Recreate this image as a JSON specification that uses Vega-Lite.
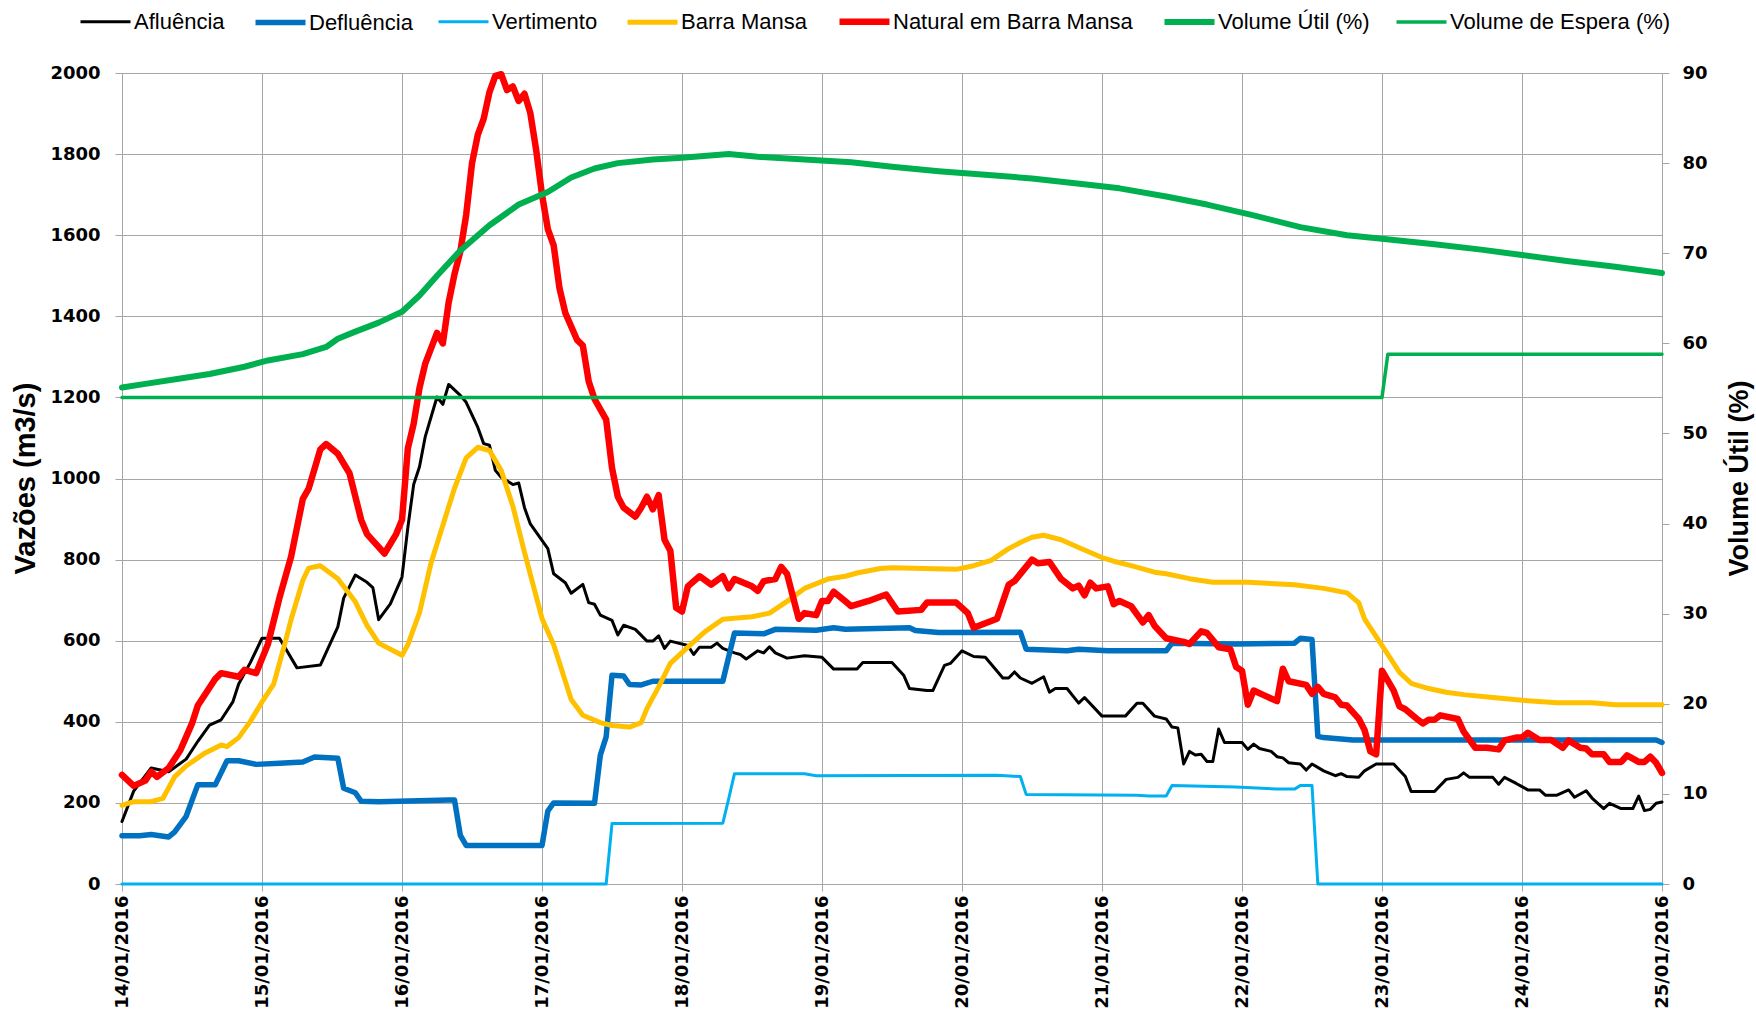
{
  "$schema": "https://vega.github.io/schema/vega-lite/v6.json",
  "width": 1540,
  "height": 811,
  "autosize": {"type": "none"},
  "padding": {"left": 122, "top": 73, "right": 94, "bottom": 137},
  "background": "white",
  "config": {"view": {"stroke": null}, "font": "Liberation Sans"},
  "datasets": {
    "vazoes": [
      {"t":"2016-01-14T00:00","s":"Afluência","v":154},{"t":"2016-01-14T02:00","s":"Afluência","v":229},{"t":"2016-01-14T05:00","s":"Afluência","v":286},{"t":"2016-01-14T08:00","s":"Afluência","v":277},{"t":"2016-01-14T11:00","s":"Afluência","v":308},{"t":"2016-01-14T13:00","s":"Afluência","v":352},{"t":"2016-01-14T15:00","s":"Afluência","v":392},{"t":"2016-01-14T17:00","s":"Afluência","v":405},{"t":"2016-01-14T19:00","s":"Afluência","v":449},{"t":"2016-01-14T20:00","s":"Afluência","v":493},{"t":"2016-01-14T22:00","s":"Afluência","v":546},
      {"t":"2016-01-15T00:00","s":"Afluência","v":606},{"t":"2016-01-15T03:00","s":"Afluência","v":606},{"t":"2016-01-15T06:00","s":"Afluência","v":533},{"t":"2016-01-15T10:00","s":"Afluência","v":540},{"t":"2016-01-15T13:00","s":"Afluência","v":634},{"t":"2016-01-15T14:00","s":"Afluência","v":705},{"t":"2016-01-15T16:00","s":"Afluência","v":762},{"t":"2016-01-15T18:00","s":"Afluência","v":744},{"t":"2016-01-15T19:00","s":"Afluência","v":731},{"t":"2016-01-15T20:00","s":"Afluência","v":652},{"t":"2016-01-15T22:00","s":"Afluência","v":691},
      {"t":"2016-01-16T00:00","s":"Afluência","v":757},{"t":"2016-01-16T01:00","s":"Afluência","v":879},{"t":"2016-01-16T02:00","s":"Afluência","v":985},{"t":"2016-01-16T03:00","s":"Afluência","v":1029},{"t":"2016-01-16T04:00","s":"Afluência","v":1104},{"t":"2016-01-16T06:00","s":"Afluência","v":1201},{"t":"2016-01-16T07:00","s":"Afluência","v":1183},{"t":"2016-01-16T08:00","s":"Afluência","v":1232},{"t":"2016-01-16T10:00","s":"Afluência","v":1205},{"t":"2016-01-16T11:00","s":"Afluência","v":1188},{"t":"2016-01-16T13:00","s":"Afluência","v":1126},{"t":"2016-01-16T14:00","s":"Afluência","v":1086},{"t":"2016-01-16T15:00","s":"Afluência","v":1082},{"t":"2016-01-16T16:00","s":"Afluência","v":1020},{"t":"2016-01-16T17:00","s":"Afluência","v":1003},{"t":"2016-01-16T19:00","s":"Afluência","v":985},{"t":"2016-01-16T20:00","s":"Afluência","v":989},{"t":"2016-01-16T21:00","s":"Afluência","v":928},{"t":"2016-01-16T22:00","s":"Afluência","v":888},
      {"t":"2016-01-17T01:00","s":"Afluência","v":827},{"t":"2016-01-17T02:00","s":"Afluência","v":765},{"t":"2016-01-17T04:00","s":"Afluência","v":743},{"t":"2016-01-17T05:00","s":"Afluência","v":717},{"t":"2016-01-17T07:00","s":"Afluência","v":739},{"t":"2016-01-17T08:00","s":"Afluência","v":694},{"t":"2016-01-17T09:00","s":"Afluência","v":690},{"t":"2016-01-17T10:00","s":"Afluência","v":663},{"t":"2016-01-17T12:00","s":"Afluência","v":650},{"t":"2016-01-17T13:00","s":"Afluência","v":614},{"t":"2016-01-17T14:00","s":"Afluência","v":638},{"t":"2016-01-17T16:00","s":"Afluência","v":628},{"t":"2016-01-17T18:00","s":"Afluência","v":599},{"t":"2016-01-17T19:00","s":"Afluência","v":599},{"t":"2016-01-17T20:00","s":"Afluência","v":612},{"t":"2016-01-17T21:00","s":"Afluência","v":581},{"t":"2016-01-17T22:00","s":"Afluência","v":599},
      {"t":"2016-01-18T01:00","s":"Afluência","v":588},{"t":"2016-01-18T02:00","s":"Afluência","v":566},{"t":"2016-01-18T03:00","s":"Afluência","v":584},{"t":"2016-01-18T05:00","s":"Afluência","v":584},{"t":"2016-01-18T06:00","s":"Afluência","v":594},{"t":"2016-01-18T07:00","s":"Afluência","v":581},{"t":"2016-01-18T09:00","s":"Afluência","v":570},{"t":"2016-01-18T10:00","s":"Afluência","v":566},{"t":"2016-01-18T11:00","s":"Afluência","v":555},{"t":"2016-01-18T13:00","s":"Afluência","v":575},{"t":"2016-01-18T14:00","s":"Afluência","v":570},{"t":"2016-01-18T15:00","s":"Afluência","v":585},{"t":"2016-01-18T16:00","s":"Afluência","v":570},{"t":"2016-01-18T18:00","s":"Afluência","v":557},{"t":"2016-01-18T21:00","s":"Afluência","v":563},
      {"t":"2016-01-19T00:00","s":"Afluência","v":559},{"t":"2016-01-19T02:00","s":"Afluência","v":530},{"t":"2016-01-19T06:00","s":"Afluência","v":530},{"t":"2016-01-19T07:00","s":"Afluência","v":546},{"t":"2016-01-19T12:00","s":"Afluência","v":546},{"t":"2016-01-19T14:00","s":"Afluência","v":515},{"t":"2016-01-19T15:00","s":"Afluência","v":482},{"t":"2016-01-19T18:00","s":"Afluência","v":477},{"t":"2016-01-19T19:00","s":"Afluência","v":477},{"t":"2016-01-19T21:00","s":"Afluência","v":539},{"t":"2016-01-19T22:00","s":"Afluência","v":544},
      {"t":"2016-01-20T00:00","s":"Afluência","v":575},{"t":"2016-01-20T02:00","s":"Afluência","v":561},{"t":"2016-01-20T04:00","s":"Afluência","v":559},{"t":"2016-01-20T07:00","s":"Afluência","v":508},{"t":"2016-01-20T08:00","s":"Afluência","v":508},{"t":"2016-01-20T09:00","s":"Afluência","v":523},{"t":"2016-01-20T10:00","s":"Afluência","v":508},{"t":"2016-01-20T12:00","s":"Afluência","v":495},{"t":"2016-01-20T14:00","s":"Afluência","v":511},{"t":"2016-01-20T15:00","s":"Afluência","v":473},{"t":"2016-01-20T16:00","s":"Afluência","v":482},{"t":"2016-01-20T18:00","s":"Afluência","v":482},{"t":"2016-01-20T20:00","s":"Afluência","v":446},{"t":"2016-01-20T21:00","s":"Afluência","v":460},
      {"t":"2016-01-21T00:00","s":"Afluência","v":414},{"t":"2016-01-21T04:00","s":"Afluência","v":414},{"t":"2016-01-21T06:00","s":"Afluência","v":446},{"t":"2016-01-21T07:00","s":"Afluência","v":446},{"t":"2016-01-21T09:00","s":"Afluência","v":414},{"t":"2016-01-21T11:00","s":"Afluência","v":407},{"t":"2016-01-21T12:00","s":"Afluência","v":387},{"t":"2016-01-21T13:00","s":"Afluência","v":385},{"t":"2016-01-21T14:00","s":"Afluência","v":296},{"t":"2016-01-21T15:00","s":"Afluência","v":327},{"t":"2016-01-21T16:00","s":"Afluência","v":318},{"t":"2016-01-21T17:00","s":"Afluência","v":320},{"t":"2016-01-21T18:00","s":"Afluência","v":302},{"t":"2016-01-21T19:00","s":"Afluência","v":302},{"t":"2016-01-21T20:00","s":"Afluência","v":382},{"t":"2016-01-21T21:00","s":"Afluência","v":349},
      {"t":"2016-01-22T00:00","s":"Afluência","v":349},{"t":"2016-01-22T01:00","s":"Afluência","v":332},{"t":"2016-01-22T02:00","s":"Afluência","v":345},{"t":"2016-01-22T03:00","s":"Afluência","v":334},{"t":"2016-01-22T05:00","s":"Afluência","v":327},{"t":"2016-01-22T06:00","s":"Afluência","v":314},{"t":"2016-01-22T07:00","s":"Afluência","v":311},{"t":"2016-01-22T08:00","s":"Afluência","v":299},{"t":"2016-01-22T10:00","s":"Afluência","v":296},{"t":"2016-01-22T11:00","s":"Afluência","v":281},{"t":"2016-01-22T12:00","s":"Afluência","v":296},{"t":"2016-01-22T14:00","s":"Afluência","v":279},{"t":"2016-01-22T16:00","s":"Afluência","v":267},{"t":"2016-01-22T17:00","s":"Afluência","v":272},{"t":"2016-01-22T18:00","s":"Afluência","v":265},{"t":"2016-01-22T20:00","s":"Afluência","v":263},{"t":"2016-01-22T21:00","s":"Afluência","v":279},{"t":"2016-01-22T23:00","s":"Afluência","v":296},
      {"t":"2016-01-23T02:00","s":"Afluência","v":296},{"t":"2016-01-23T04:00","s":"Afluência","v":265},{"t":"2016-01-23T05:00","s":"Afluência","v":228},{"t":"2016-01-23T09:00","s":"Afluência","v":228},{"t":"2016-01-23T11:00","s":"Afluência","v":258},{"t":"2016-01-23T13:00","s":"Afluência","v":263},{"t":"2016-01-23T14:00","s":"Afluência","v":274},{"t":"2016-01-23T15:00","s":"Afluência","v":263},{"t":"2016-01-23T19:00","s":"Afluência","v":263},{"t":"2016-01-23T20:00","s":"Afluência","v":246},{"t":"2016-01-23T21:00","s":"Afluência","v":263},{"t":"2016-01-23T23:00","s":"Afluência","v":248},
      {"t":"2016-01-24T00:00","s":"Afluência","v":240},{"t":"2016-01-24T01:00","s":"Afluência","v":232},{"t":"2016-01-24T03:00","s":"Afluência","v":232},{"t":"2016-01-24T04:00","s":"Afluência","v":219},{"t":"2016-01-24T06:00","s":"Afluência","v":219},{"t":"2016-01-24T08:00","s":"Afluência","v":232},{"t":"2016-01-24T09:00","s":"Afluência","v":214},{"t":"2016-01-24T11:00","s":"Afluência","v":230},{"t":"2016-01-24T12:00","s":"Afluência","v":212},{"t":"2016-01-24T14:00","s":"Afluência","v":186},{"t":"2016-01-24T15:00","s":"Afluência","v":199},{"t":"2016-01-24T17:00","s":"Afluência","v":186},{"t":"2016-01-24T19:00","s":"Afluência","v":186},{"t":"2016-01-24T20:00","s":"Afluência","v":217},{"t":"2016-01-24T21:00","s":"Afluência","v":181},{"t":"2016-01-24T22:00","s":"Afluência","v":184},{"t":"2016-01-24T23:00","s":"Afluência","v":199},{"t":"2016-01-25T00:00","s":"Afluência","v":202},

      {"t":"2016-01-14T00:00","s":"Defluência","v":119},{"t":"2016-01-14T03:00","s":"Defluência","v":119},{"t":"2016-01-14T05:00","s":"Defluência","v":122},{"t":"2016-01-14T08:00","s":"Defluência","v":116},{"t":"2016-01-14T09:00","s":"Defluência","v":128},{"t":"2016-01-14T11:00","s":"Defluência","v":167},{"t":"2016-01-14T13:00","s":"Defluência","v":245},{"t":"2016-01-14T16:00","s":"Defluência","v":245},{"t":"2016-01-14T18:00","s":"Defluência","v":304},{"t":"2016-01-14T20:00","s":"Defluência","v":304},{"t":"2016-01-14T23:00","s":"Defluência","v":295},
      {"t":"2016-01-15T03:00","s":"Defluência","v":298},{"t":"2016-01-15T07:00","s":"Defluência","v":301},{"t":"2016-01-15T09:00","s":"Defluência","v":313},{"t":"2016-01-15T13:00","s":"Defluência","v":310},{"t":"2016-01-15T14:00","s":"Defluência","v":236},{"t":"2016-01-15T16:00","s":"Defluência","v":225},{"t":"2016-01-15T17:00","s":"Defluência","v":204},{"t":"2016-01-15T20:00","s":"Defluência","v":203},
      {"t":"2016-01-16T08:00","s":"Defluência","v":207},{"t":"2016-01-16T09:00","s":"Defluência","v":207},{"t":"2016-01-16T10:00","s":"Defluência","v":120},{"t":"2016-01-16T11:00","s":"Defluência","v":95},
      {"t":"2016-01-17T00:00","s":"Defluência","v":95},{"t":"2016-01-17T01:00","s":"Defluência","v":180},{"t":"2016-01-17T02:00","s":"Defluência","v":200},{"t":"2016-01-17T09:00","s":"Defluência","v":199},{"t":"2016-01-17T10:00","s":"Defluência","v":318},{"t":"2016-01-17T11:00","s":"Defluência","v":363},{"t":"2016-01-17T12:00","s":"Defluência","v":515},{"t":"2016-01-17T14:00","s":"Defluência","v":513},{"t":"2016-01-17T15:00","s":"Defluência","v":492},{"t":"2016-01-17T17:00","s":"Defluência","v":491},{"t":"2016-01-17T19:00","s":"Defluência","v":500},
      {"t":"2016-01-18T07:00","s":"Defluência","v":500},{"t":"2016-01-18T08:00","s":"Defluência","v":560},{"t":"2016-01-18T09:00","s":"Defluência","v":619},{"t":"2016-01-18T14:00","s":"Defluência","v":617},{"t":"2016-01-18T16:00","s":"Defluência","v":628},{"t":"2016-01-18T23:00","s":"Defluência","v":626},
      {"t":"2016-01-19T02:00","s":"Defluência","v":632},{"t":"2016-01-19T04:00","s":"Defluência","v":628},{"t":"2016-01-19T15:00","s":"Defluência","v":632},{"t":"2016-01-19T16:00","s":"Defluência","v":625},{"t":"2016-01-19T20:00","s":"Defluência","v":620},
      {"t":"2016-01-20T10:00","s":"Defluência","v":621},{"t":"2016-01-20T11:00","s":"Defluência","v":579},{"t":"2016-01-20T18:00","s":"Defluência","v":575},{"t":"2016-01-20T20:00","s":"Defluência","v":579},
      {"t":"2016-01-21T01:00","s":"Defluência","v":575},{"t":"2016-01-21T11:00","s":"Defluência","v":575},{"t":"2016-01-21T12:00","s":"Defluência","v":594},{"t":"2016-01-21T23:00","s":"Defluência","v":592},
      {"t":"2016-01-22T09:00","s":"Defluência","v":594},{"t":"2016-01-22T10:00","s":"Defluência","v":606},{"t":"2016-01-22T12:00","s":"Defluência","v":603},{"t":"2016-01-22T13:00","s":"Defluência","v":364},{"t":"2016-01-22T14:00","s":"Defluência","v":361},{"t":"2016-01-22T19:00","s":"Defluência","v":355},
      {"t":"2016-01-24T23:00","s":"Defluência","v":355},{"t":"2016-01-25T00:00","s":"Defluência","v":349},

      {"t":"2016-01-14T00:00","s":"Vertimento","v":0},{"t":"2016-01-17T11:00","s":"Vertimento","v":0},{"t":"2016-01-17T12:00","s":"Vertimento","v":149},{"t":"2016-01-18T07:00","s":"Vertimento","v":150},{"t":"2016-01-18T08:00","s":"Vertimento","v":210},{"t":"2016-01-18T09:00","s":"Vertimento","v":272},{"t":"2016-01-18T21:00","s":"Vertimento","v":272},{"t":"2016-01-18T23:00","s":"Vertimento","v":267},{"t":"2016-01-20T06:00","s":"Vertimento","v":268},{"t":"2016-01-20T10:00","s":"Vertimento","v":265},{"t":"2016-01-20T11:00","s":"Vertimento","v":221},{"t":"2016-01-21T06:00","s":"Vertimento","v":219},{"t":"2016-01-21T08:00","s":"Vertimento","v":217},{"t":"2016-01-21T11:00","s":"Vertimento","v":217},{"t":"2016-01-21T12:00","s":"Vertimento","v":243},{"t":"2016-01-21T23:00","s":"Vertimento","v":239},{"t":"2016-01-22T06:00","s":"Vertimento","v":234},{"t":"2016-01-22T09:00","s":"Vertimento","v":234},{"t":"2016-01-22T10:00","s":"Vertimento","v":243},{"t":"2016-01-22T12:00","s":"Vertimento","v":243},{"t":"2016-01-22T13:00","s":"Vertimento","v":0},{"t":"2016-01-25T00:00","s":"Vertimento","v":0},

      {"t":"2016-01-14T00:00","s":"Barra Mansa","v":194},{"t":"2016-01-14T02:00","s":"Barra Mansa","v":203},{"t":"2016-01-14T05:00","s":"Barra Mansa","v":203},{"t":"2016-01-14T07:00","s":"Barra Mansa","v":211},{"t":"2016-01-14T09:00","s":"Barra Mansa","v":264},{"t":"2016-01-14T11:00","s":"Barra Mansa","v":291},{"t":"2016-01-14T14:00","s":"Barra Mansa","v":321},{"t":"2016-01-14T17:00","s":"Barra Mansa","v":343},{"t":"2016-01-14T18:00","s":"Barra Mansa","v":339},{"t":"2016-01-14T20:00","s":"Barra Mansa","v":361},{"t":"2016-01-14T22:00","s":"Barra Mansa","v":401},
      {"t":"2016-01-15T00:00","s":"Barra Mansa","v":449},{"t":"2016-01-15T02:00","s":"Barra Mansa","v":493},{"t":"2016-01-15T04:00","s":"Barra Mansa","v":597},{"t":"2016-01-15T05:00","s":"Barra Mansa","v":653},{"t":"2016-01-15T07:00","s":"Barra Mansa","v":749},{"t":"2016-01-15T08:00","s":"Barra Mansa","v":779},{"t":"2016-01-15T10:00","s":"Barra Mansa","v":785},{"t":"2016-01-15T13:00","s":"Barra Mansa","v":753},{"t":"2016-01-15T16:00","s":"Barra Mansa","v":696},{"t":"2016-01-15T18:00","s":"Barra Mansa","v":638},{"t":"2016-01-15T20:00","s":"Barra Mansa","v":594},
      {"t":"2016-01-16T00:00","s":"Barra Mansa","v":564},{"t":"2016-01-16T01:00","s":"Barra Mansa","v":590},{"t":"2016-01-16T03:00","s":"Barra Mansa","v":669},{"t":"2016-01-16T05:00","s":"Barra Mansa","v":793},{"t":"2016-01-16T09:00","s":"Barra Mansa","v":976},{"t":"2016-01-16T11:00","s":"Barra Mansa","v":1051},{"t":"2016-01-16T13:00","s":"Barra Mansa","v":1077},{"t":"2016-01-16T15:00","s":"Barra Mansa","v":1069},{"t":"2016-01-16T17:00","s":"Barra Mansa","v":1020},{"t":"2016-01-16T19:00","s":"Barra Mansa","v":932},{"t":"2016-01-16T21:00","s":"Barra Mansa","v":818},
      {"t":"2016-01-17T00:00","s":"Barra Mansa","v":655},{"t":"2016-01-17T02:00","s":"Barra Mansa","v":590},{"t":"2016-01-17T04:00","s":"Barra Mansa","v":500},{"t":"2016-01-17T05:00","s":"Barra Mansa","v":455},{"t":"2016-01-17T07:00","s":"Barra Mansa","v":416},{"t":"2016-01-17T10:00","s":"Barra Mansa","v":398},{"t":"2016-01-17T12:00","s":"Barra Mansa","v":391},{"t":"2016-01-17T15:00","s":"Barra Mansa","v":387},{"t":"2016-01-17T17:00","s":"Barra Mansa","v":398},{"t":"2016-01-17T18:00","s":"Barra Mansa","v":433},{"t":"2016-01-17T20:00","s":"Barra Mansa","v":486},{"t":"2016-01-17T22:00","s":"Barra Mansa","v":544},
      {"t":"2016-01-18T01:00","s":"Barra Mansa","v":584},{"t":"2016-01-18T04:00","s":"Barra Mansa","v":623},{"t":"2016-01-18T07:00","s":"Barra Mansa","v":653},{"t":"2016-01-18T12:00","s":"Barra Mansa","v":659},{"t":"2016-01-18T15:00","s":"Barra Mansa","v":668},{"t":"2016-01-18T18:00","s":"Barra Mansa","v":697},{"t":"2016-01-18T21:00","s":"Barra Mansa","v":729},
      {"t":"2016-01-19T01:00","s":"Barra Mansa","v":752},{"t":"2016-01-19T04:00","s":"Barra Mansa","v":759},{"t":"2016-01-19T06:00","s":"Barra Mansa","v":767},{"t":"2016-01-19T10:00","s":"Barra Mansa","v":778},{"t":"2016-01-19T12:00","s":"Barra Mansa","v":780},{"t":"2016-01-19T23:00","s":"Barra Mansa","v":776},
      {"t":"2016-01-20T02:00","s":"Barra Mansa","v":785},{"t":"2016-01-20T05:00","s":"Barra Mansa","v":798},{"t":"2016-01-20T08:00","s":"Barra Mansa","v":827},{"t":"2016-01-20T10:00","s":"Barra Mansa","v":842},{"t":"2016-01-20T12:00","s":"Barra Mansa","v":855},{"t":"2016-01-20T14:00","s":"Barra Mansa","v":860},{"t":"2016-01-20T17:00","s":"Barra Mansa","v":849},{"t":"2016-01-20T20:00","s":"Barra Mansa","v":830},
      {"t":"2016-01-21T00:00","s":"Barra Mansa","v":805},{"t":"2016-01-21T02:00","s":"Barra Mansa","v":796},{"t":"2016-01-21T05:00","s":"Barra Mansa","v":785},{"t":"2016-01-21T09:00","s":"Barra Mansa","v":769},{"t":"2016-01-21T11:00","s":"Barra Mansa","v":765},{"t":"2016-01-21T15:00","s":"Barra Mansa","v":753},{"t":"2016-01-21T19:00","s":"Barra Mansa","v":744},
      {"t":"2016-01-22T01:00","s":"Barra Mansa","v":744},{"t":"2016-01-22T09:00","s":"Barra Mansa","v":738},{"t":"2016-01-22T14:00","s":"Barra Mansa","v":729},{"t":"2016-01-22T18:00","s":"Barra Mansa","v":718},{"t":"2016-01-22T20:00","s":"Barra Mansa","v":694},{"t":"2016-01-22T21:00","s":"Barra Mansa","v":654},{"t":"2016-01-22T23:00","s":"Barra Mansa","v":610},
      {"t":"2016-01-23T01:00","s":"Barra Mansa","v":566},{"t":"2016-01-23T03:00","s":"Barra Mansa","v":522},{"t":"2016-01-23T05:00","s":"Barra Mansa","v":495},{"t":"2016-01-23T08:00","s":"Barra Mansa","v":482},{"t":"2016-01-23T11:00","s":"Barra Mansa","v":473},{"t":"2016-01-23T14:00","s":"Barra Mansa","v":467},{"t":"2016-01-23T19:00","s":"Barra Mansa","v":460},
      {"t":"2016-01-24T00:00","s":"Barra Mansa","v":453},{"t":"2016-01-24T06:00","s":"Barra Mansa","v":447},{"t":"2016-01-24T12:00","s":"Barra Mansa","v":447},{"t":"2016-01-24T16:00","s":"Barra Mansa","v":442},{"t":"2016-01-25T00:00","s":"Barra Mansa","v":442},

      {"t":"2016-01-14T00:00","s":"Natural em Barra Mansa","v":269},{"t":"2016-01-14T02:00","s":"Natural em Barra Mansa","v":242},{"t":"2016-01-14T04:00","s":"Natural em Barra Mansa","v":255},{"t":"2016-01-14T05:00","s":"Natural em Barra Mansa","v":277},{"t":"2016-01-14T06:00","s":"Natural em Barra Mansa","v":264},{"t":"2016-01-14T08:00","s":"Natural em Barra Mansa","v":286},{"t":"2016-01-14T10:00","s":"Natural em Barra Mansa","v":330},{"t":"2016-01-14T12:00","s":"Natural em Barra Mansa","v":396},{"t":"2016-01-14T13:00","s":"Natural em Barra Mansa","v":440},{"t":"2016-01-14T16:00","s":"Natural em Barra Mansa","v":506},{"t":"2016-01-14T17:00","s":"Natural em Barra Mansa","v":520},{"t":"2016-01-14T20:00","s":"Natural em Barra Mansa","v":511},{"t":"2016-01-14T21:00","s":"Natural em Barra Mansa","v":528},{"t":"2016-01-14T23:00","s":"Natural em Barra Mansa","v":520},
      {"t":"2016-01-15T01:00","s":"Natural em Barra Mansa","v":591},{"t":"2016-01-15T03:00","s":"Natural em Barra Mansa","v":706},{"t":"2016-01-15T05:00","s":"Natural em Barra Mansa","v":808},{"t":"2016-01-15T07:00","s":"Natural em Barra Mansa","v":950},{"t":"2016-01-15T08:00","s":"Natural em Barra Mansa","v":975},{"t":"2016-01-15T10:00","s":"Natural em Barra Mansa","v":1072},{"t":"2016-01-15T11:00","s":"Natural em Barra Mansa","v":1085},{"t":"2016-01-15T13:00","s":"Natural em Barra Mansa","v":1061},{"t":"2016-01-15T15:00","s":"Natural em Barra Mansa","v":1013},{"t":"2016-01-15T17:00","s":"Natural em Barra Mansa","v":898},{"t":"2016-01-15T18:00","s":"Natural em Barra Mansa","v":863},{"t":"2016-01-15T21:00","s":"Natural em Barra Mansa","v":815},{"t":"2016-01-15T23:00","s":"Natural em Barra Mansa","v":863},
      {"t":"2016-01-16T00:00","s":"Natural em Barra Mansa","v":898},{"t":"2016-01-16T01:00","s":"Natural em Barra Mansa","v":1074},{"t":"2016-01-16T02:00","s":"Natural em Barra Mansa","v":1135},{"t":"2016-01-16T03:00","s":"Natural em Barra Mansa","v":1223},{"t":"2016-01-16T04:00","s":"Natural em Barra Mansa","v":1284},{"t":"2016-01-16T06:00","s":"Natural em Barra Mansa","v":1359},{"t":"2016-01-16T07:00","s":"Natural em Barra Mansa","v":1333},{"t":"2016-01-16T08:00","s":"Natural em Barra Mansa","v":1434},{"t":"2016-01-16T09:00","s":"Natural em Barra Mansa","v":1504},{"t":"2016-01-16T10:00","s":"Natural em Barra Mansa","v":1560},{"t":"2016-01-16T11:00","s":"Natural em Barra Mansa","v":1650},{"t":"2016-01-16T12:00","s":"Natural em Barra Mansa","v":1777},{"t":"2016-01-16T13:00","s":"Natural em Barra Mansa","v":1848},{"t":"2016-01-16T14:00","s":"Natural em Barra Mansa","v":1887},{"t":"2016-01-16T15:00","s":"Natural em Barra Mansa","v":1953},{"t":"2016-01-16T16:00","s":"Natural em Barra Mansa","v":1993},{"t":"2016-01-16T17:00","s":"Natural em Barra Mansa","v":1997},{"t":"2016-01-16T18:00","s":"Natural em Barra Mansa","v":1958},{"t":"2016-01-16T19:00","s":"Natural em Barra Mansa","v":1967},{"t":"2016-01-16T20:00","s":"Natural em Barra Mansa","v":1931},{"t":"2016-01-16T21:00","s":"Natural em Barra Mansa","v":1949},{"t":"2016-01-16T22:00","s":"Natural em Barra Mansa","v":1901},{"t":"2016-01-16T23:00","s":"Natural em Barra Mansa","v":1810},
      {"t":"2016-01-17T00:00","s":"Natural em Barra Mansa","v":1700},{"t":"2016-01-17T01:00","s":"Natural em Barra Mansa","v":1615},{"t":"2016-01-17T02:00","s":"Natural em Barra Mansa","v":1575},{"t":"2016-01-17T03:00","s":"Natural em Barra Mansa","v":1469},{"t":"2016-01-17T04:00","s":"Natural em Barra Mansa","v":1408},{"t":"2016-01-17T06:00","s":"Natural em Barra Mansa","v":1342},{"t":"2016-01-17T07:00","s":"Natural em Barra Mansa","v":1328},{"t":"2016-01-17T08:00","s":"Natural em Barra Mansa","v":1240},{"t":"2016-01-17T09:00","s":"Natural em Barra Mansa","v":1196},{"t":"2016-01-17T11:00","s":"Natural em Barra Mansa","v":1145},{"t":"2016-01-17T12:00","s":"Natural em Barra Mansa","v":1026},{"t":"2016-01-17T13:00","s":"Natural em Barra Mansa","v":955},{"t":"2016-01-17T14:00","s":"Natural em Barra Mansa","v":928},{"t":"2016-01-17T16:00","s":"Natural em Barra Mansa","v":906},{"t":"2016-01-17T17:00","s":"Natural em Barra Mansa","v":928},{"t":"2016-01-17T18:00","s":"Natural em Barra Mansa","v":955},{"t":"2016-01-17T19:00","s":"Natural em Barra Mansa","v":924},{"t":"2016-01-17T20:00","s":"Natural em Barra Mansa","v":959},{"t":"2016-01-17T21:00","s":"Natural em Barra Mansa","v":849},{"t":"2016-01-17T22:00","s":"Natural em Barra Mansa","v":822},{"t":"2016-01-17T23:00","s":"Natural em Barra Mansa","v":681},
      {"t":"2016-01-18T00:00","s":"Natural em Barra Mansa","v":672},{"t":"2016-01-18T01:00","s":"Natural em Barra Mansa","v":734},{"t":"2016-01-18T03:00","s":"Natural em Barra Mansa","v":759},{"t":"2016-01-18T05:00","s":"Natural em Barra Mansa","v":738},{"t":"2016-01-18T07:00","s":"Natural em Barra Mansa","v":759},{"t":"2016-01-18T08:00","s":"Natural em Barra Mansa","v":729},{"t":"2016-01-18T09:00","s":"Natural em Barra Mansa","v":752},{"t":"2016-01-18T12:00","s":"Natural em Barra Mansa","v":734},{"t":"2016-01-18T13:00","s":"Natural em Barra Mansa","v":723},{"t":"2016-01-18T14:00","s":"Natural em Barra Mansa","v":747},{"t":"2016-01-18T16:00","s":"Natural em Barra Mansa","v":752},{"t":"2016-01-18T17:00","s":"Natural em Barra Mansa","v":782},{"t":"2016-01-18T18:00","s":"Natural em Barra Mansa","v":765},{"t":"2016-01-18T20:00","s":"Natural em Barra Mansa","v":654},{"t":"2016-01-18T21:00","s":"Natural em Barra Mansa","v":668},{"t":"2016-01-18T23:00","s":"Natural em Barra Mansa","v":663},
      {"t":"2016-01-19T00:00","s":"Natural em Barra Mansa","v":698},{"t":"2016-01-19T01:00","s":"Natural em Barra Mansa","v":698},{"t":"2016-01-19T02:00","s":"Natural em Barra Mansa","v":721},{"t":"2016-01-19T04:00","s":"Natural em Barra Mansa","v":697},{"t":"2016-01-19T05:00","s":"Natural em Barra Mansa","v":685},{"t":"2016-01-19T08:00","s":"Natural em Barra Mansa","v":698},{"t":"2016-01-19T11:00","s":"Natural em Barra Mansa","v":714},{"t":"2016-01-19T13:00","s":"Natural em Barra Mansa","v":672},{"t":"2016-01-19T17:00","s":"Natural em Barra Mansa","v":676},{"t":"2016-01-19T18:00","s":"Natural em Barra Mansa","v":694},{"t":"2016-01-19T23:00","s":"Natural em Barra Mansa","v":694},
      {"t":"2016-01-20T01:00","s":"Natural em Barra Mansa","v":668},{"t":"2016-01-20T02:00","s":"Natural em Barra Mansa","v":632},{"t":"2016-01-20T06:00","s":"Natural em Barra Mansa","v":654},{"t":"2016-01-20T08:00","s":"Natural em Barra Mansa","v":738},{"t":"2016-01-20T09:00","s":"Natural em Barra Mansa","v":747},{"t":"2016-01-20T12:00","s":"Natural em Barra Mansa","v":800},{"t":"2016-01-20T13:00","s":"Natural em Barra Mansa","v":791},{"t":"2016-01-20T15:00","s":"Natural em Barra Mansa","v":794},{"t":"2016-01-20T17:00","s":"Natural em Barra Mansa","v":752},{"t":"2016-01-20T19:00","s":"Natural em Barra Mansa","v":729},{"t":"2016-01-20T20:00","s":"Natural em Barra Mansa","v":736},{"t":"2016-01-20T21:00","s":"Natural em Barra Mansa","v":712},{"t":"2016-01-20T22:00","s":"Natural em Barra Mansa","v":743},{"t":"2016-01-20T23:00","s":"Natural em Barra Mansa","v":729},
      {"t":"2016-01-21T01:00","s":"Natural em Barra Mansa","v":734},{"t":"2016-01-21T02:00","s":"Natural em Barra Mansa","v":690},{"t":"2016-01-21T03:00","s":"Natural em Barra Mansa","v":698},{"t":"2016-01-21T05:00","s":"Natural em Barra Mansa","v":685},{"t":"2016-01-21T07:00","s":"Natural em Barra Mansa","v":645},{"t":"2016-01-21T08:00","s":"Natural em Barra Mansa","v":663},{"t":"2016-01-21T09:00","s":"Natural em Barra Mansa","v":637},{"t":"2016-01-21T11:00","s":"Natural em Barra Mansa","v":606},{"t":"2016-01-21T14:00","s":"Natural em Barra Mansa","v":597},{"t":"2016-01-21T15:00","s":"Natural em Barra Mansa","v":592},{"t":"2016-01-21T17:00","s":"Natural em Barra Mansa","v":623},{"t":"2016-01-21T18:00","s":"Natural em Barra Mansa","v":619},{"t":"2016-01-21T20:00","s":"Natural em Barra Mansa","v":584},{"t":"2016-01-21T22:00","s":"Natural em Barra Mansa","v":579},{"t":"2016-01-21T23:00","s":"Natural em Barra Mansa","v":535},
      {"t":"2016-01-22T00:00","s":"Natural em Barra Mansa","v":526},{"t":"2016-01-22T01:00","s":"Natural em Barra Mansa","v":442},{"t":"2016-01-22T02:00","s":"Natural em Barra Mansa","v":477},{"t":"2016-01-22T04:00","s":"Natural em Barra Mansa","v":464},{"t":"2016-01-22T06:00","s":"Natural em Barra Mansa","v":451},{"t":"2016-01-22T07:00","s":"Natural em Barra Mansa","v":531},{"t":"2016-01-22T08:00","s":"Natural em Barra Mansa","v":500},{"t":"2016-01-22T11:00","s":"Natural em Barra Mansa","v":491},{"t":"2016-01-22T12:00","s":"Natural em Barra Mansa","v":469},{"t":"2016-01-22T13:00","s":"Natural em Barra Mansa","v":486},{"t":"2016-01-22T14:00","s":"Natural em Barra Mansa","v":469},{"t":"2016-01-22T16:00","s":"Natural em Barra Mansa","v":460},{"t":"2016-01-22T17:00","s":"Natural em Barra Mansa","v":442},{"t":"2016-01-22T18:00","s":"Natural em Barra Mansa","v":440},{"t":"2016-01-22T20:00","s":"Natural em Barra Mansa","v":408},{"t":"2016-01-22T21:00","s":"Natural em Barra Mansa","v":380},{"t":"2016-01-22T22:00","s":"Natural em Barra Mansa","v":327},{"t":"2016-01-22T23:00","s":"Natural em Barra Mansa","v":320},
      {"t":"2016-01-23T00:00","s":"Natural em Barra Mansa","v":526},{"t":"2016-01-23T02:00","s":"Natural em Barra Mansa","v":477},{"t":"2016-01-23T03:00","s":"Natural em Barra Mansa","v":438},{"t":"2016-01-23T04:00","s":"Natural em Barra Mansa","v":431},{"t":"2016-01-23T06:00","s":"Natural em Barra Mansa","v":407},{"t":"2016-01-23T07:00","s":"Natural em Barra Mansa","v":396},{"t":"2016-01-23T08:00","s":"Natural em Barra Mansa","v":405},{"t":"2016-01-23T09:00","s":"Natural em Barra Mansa","v":405},{"t":"2016-01-23T10:00","s":"Natural em Barra Mansa","v":416},{"t":"2016-01-23T13:00","s":"Natural em Barra Mansa","v":407},{"t":"2016-01-23T14:00","s":"Natural em Barra Mansa","v":376},{"t":"2016-01-23T16:00","s":"Natural em Barra Mansa","v":336},{"t":"2016-01-23T18:00","s":"Natural em Barra Mansa","v":336},{"t":"2016-01-23T20:00","s":"Natural em Barra Mansa","v":332},{"t":"2016-01-23T21:00","s":"Natural em Barra Mansa","v":354},{"t":"2016-01-23T23:00","s":"Natural em Barra Mansa","v":361},
      {"t":"2016-01-24T00:00","s":"Natural em Barra Mansa","v":361},{"t":"2016-01-24T01:00","s":"Natural em Barra Mansa","v":373},{"t":"2016-01-24T03:00","s":"Natural em Barra Mansa","v":355},{"t":"2016-01-24T05:00","s":"Natural em Barra Mansa","v":355},{"t":"2016-01-24T07:00","s":"Natural em Barra Mansa","v":336},{"t":"2016-01-24T08:00","s":"Natural em Barra Mansa","v":354},{"t":"2016-01-24T10:00","s":"Natural em Barra Mansa","v":336},{"t":"2016-01-24T11:00","s":"Natural em Barra Mansa","v":334},{"t":"2016-01-24T12:00","s":"Natural em Barra Mansa","v":320},{"t":"2016-01-24T14:00","s":"Natural em Barra Mansa","v":320},{"t":"2016-01-24T15:00","s":"Natural em Barra Mansa","v":301},{"t":"2016-01-24T17:00","s":"Natural em Barra Mansa","v":301},{"t":"2016-01-24T18:00","s":"Natural em Barra Mansa","v":317},{"t":"2016-01-24T20:00","s":"Natural em Barra Mansa","v":301},{"t":"2016-01-24T21:00","s":"Natural em Barra Mansa","v":301},{"t":"2016-01-24T22:00","s":"Natural em Barra Mansa","v":314},{"t":"2016-01-24T23:00","s":"Natural em Barra Mansa","v":299},{"t":"2016-01-25T00:00","s":"Natural em Barra Mansa","v":274}
    ],
    "volume": [
      {"t":"2016-01-14T00:00","s":"Volume Útil (%)","v":55.1},{"t":"2016-01-14T04:00","s":"Volume Útil (%)","v":55.5},{"t":"2016-01-14T10:00","s":"Volume Útil (%)","v":56.1},{"t":"2016-01-14T15:00","s":"Volume Útil (%)","v":56.6},{"t":"2016-01-14T21:00","s":"Volume Útil (%)","v":57.4},{"t":"2016-01-15T01:00","s":"Volume Útil (%)","v":58.1},{"t":"2016-01-15T07:00","s":"Volume Útil (%)","v":58.8},{"t":"2016-01-15T11:00","s":"Volume Útil (%)","v":59.6},{"t":"2016-01-15T13:00","s":"Volume Útil (%)","v":60.5},{"t":"2016-01-15T16:00","s":"Volume Útil (%)","v":61.3},{"t":"2016-01-15T20:00","s":"Volume Útil (%)","v":62.3},{"t":"2016-01-16T00:00","s":"Volume Útil (%)","v":63.5},{"t":"2016-01-16T03:00","s":"Volume Útil (%)","v":65.3},{"t":"2016-01-16T06:00","s":"Volume Útil (%)","v":67.5},{"t":"2016-01-16T10:00","s":"Volume Útil (%)","v":70.3},{"t":"2016-01-16T15:00","s":"Volume Útil (%)","v":73.1},{"t":"2016-01-16T20:00","s":"Volume Útil (%)","v":75.4},{"t":"2016-01-17T01:00","s":"Volume Útil (%)","v":76.8},{"t":"2016-01-17T05:00","s":"Volume Útil (%)","v":78.4},{"t":"2016-01-17T09:00","s":"Volume Útil (%)","v":79.4},{"t":"2016-01-17T13:00","s":"Volume Útil (%)","v":80.0},{"t":"2016-01-17T19:00","s":"Volume Útil (%)","v":80.4},{"t":"2016-01-18T00:00","s":"Volume Útil (%)","v":80.6},{"t":"2016-01-18T08:00","s":"Volume Útil (%)","v":81.0},{"t":"2016-01-18T13:00","s":"Volume Útil (%)","v":80.7},{"t":"2016-01-18T21:00","s":"Volume Útil (%)","v":80.4},{"t":"2016-01-19T05:00","s":"Volume Útil (%)","v":80.1},{"t":"2016-01-19T12:00","s":"Volume Útil (%)","v":79.6},{"t":"2016-01-19T20:00","s":"Volume Útil (%)","v":79.1},{"t":"2016-01-20T04:00","s":"Volume Útil (%)","v":78.7},{"t":"2016-01-20T12:00","s":"Volume Útil (%)","v":78.3},{"t":"2016-01-20T19:00","s":"Volume Útil (%)","v":77.8},{"t":"2016-01-21T03:00","s":"Volume Útil (%)","v":77.2},{"t":"2016-01-21T11:00","s":"Volume Útil (%)","v":76.3},{"t":"2016-01-21T18:00","s":"Volume Útil (%)","v":75.4},{"t":"2016-01-22T02:00","s":"Volume Útil (%)","v":74.2},{"t":"2016-01-22T10:00","s":"Volume Útil (%)","v":72.9},{"t":"2016-01-22T18:00","s":"Volume Útil (%)","v":72.0},{"t":"2016-01-23T00:00","s":"Volume Útil (%)","v":71.6},{"t":"2016-01-23T09:00","s":"Volume Útil (%)","v":71.0},{"t":"2016-01-23T17:00","s":"Volume Útil (%)","v":70.4},{"t":"2016-01-24T00:00","s":"Volume Útil (%)","v":69.8},{"t":"2016-01-24T08:00","s":"Volume Útil (%)","v":69.1},{"t":"2016-01-24T16:00","s":"Volume Útil (%)","v":68.5},{"t":"2016-01-25T00:00","s":"Volume Útil (%)","v":67.8},
      {"t":"2016-01-14T00:00","s":"Volume de Espera (%)","v":54.0},{"t":"2016-01-23T00:00","s":"Volume de Espera (%)","v":54.0},{"t":"2016-01-23T01:00","s":"Volume de Espera (%)","v":58.8},{"t":"2016-01-25T00:00","s":"Volume de Espera (%)","v":58.8}
    ]
  },
  "encoding": {
    "x": {
      "field": "t", "type": "temporal",
      "scale": {"domain": [{"year": 2016, "month": 1, "date": 14}, {"year": 2016, "month": 1, "date": 25}], "nice": false},
      "axis": {
        "title": null, "format": "%d/%m/%Y", "labelAngle": -90, "labelFlush": false, "labelOverlap": false,
        "values": [{"year":2016,"month":1,"date":14},{"year":2016,"month":1,"date":15},{"year":2016,"month":1,"date":16},{"year":2016,"month":1,"date":17},{"year":2016,"month":1,"date":18},{"year":2016,"month":1,"date":19},{"year":2016,"month":1,"date":20},{"year":2016,"month":1,"date":21},{"year":2016,"month":1,"date":22},{"year":2016,"month":1,"date":23},{"year":2016,"month":1,"date":24},{"year":2016,"month":1,"date":25}],
        "labelFont": "DejaVu Sans", "labelFontWeight": "bold", "labelFontSize": 18, "labelColor": "#000000", "labelPadding": 4,
        "grid": true, "gridColor": "#A6A6A6", "gridWidth": 1, "domainColor": "#A6A6A6", "tickColor": "#A6A6A6", "tickSize": 7
      }
    },
    "color": {
      "field": "s", "type": "nominal",
      "scale": {
        "domain": ["Afluência", "Defluência", "Vertimento", "Barra Mansa", "Natural em Barra Mansa", "Volume Útil (%)", "Volume de Espera (%)"],
        "range": ["#000000", "#0070C0", "#00B0F0", "#FFC000", "#FF0000", "#00B050", "#00B050"]
      },
      "legend": {
        "orient": "none", "legendX": -45, "legendY": -80, "direction": "horizontal", "columns": 7, "title": null,
        "labelFont": "Liberation Sans", "labelFontSize": 22, "labelColor": "#000000", "symbolType": "stroke", "symbolSize": 2500,
        "labelOffset": 0, "columnPadding": 19, "labelLimit": 400, "padding": 0
      }
    },
    "strokeWidth": {
      "field": "s", "type": "nominal",
      "scale": {
        "type": "ordinal",
        "domain": ["Afluência", "Defluência", "Vertimento", "Barra Mansa", "Natural em Barra Mansa", "Volume Útil (%)", "Volume de Espera (%)"],
        "range": [3, 5.5, 3, 5, 6.5, 6, 3.5]
      },
      "legend": {
        "orient": "none", "legendX": -45, "legendY": -80, "direction": "horizontal", "columns": 7, "title": null,
        "labelFont": "Liberation Sans", "labelFontSize": 22, "labelColor": "#000000", "symbolType": "stroke", "symbolSize": 2500,
        "labelOffset": 0, "columnPadding": 19, "labelLimit": 400, "padding": 0
      }
    }
  },
  "layer": [
    {
      "data": {"name": "vazoes"},
      "mark": {"type": "line", "strokeJoin": "round", "strokeCap": "round"},
      "encoding": {
        "y": {
          "field": "v", "type": "quantitative",
          "scale": {"domain": [0, 2000], "nice": false},
          "axis": {
            "orient": "left", "title": "Vazões (m3/s)", "format": "d", "values": [0, 200, 400, 600, 800, 1000, 1200, 1400, 1600, 1800, 2000],
            "grid": true, "gridColor": "#A6A6A6", "gridWidth": 1, "domainColor": "#A6A6A6", "tickColor": "#A6A6A6", "tickSize": 7,
            "labelFont": "DejaVu Sans", "labelFontWeight": "bold", "labelFontSize": 18, "labelColor": "#000000", "labelPadding": 15,
            "titleFont": "Liberation Sans", "titleFontWeight": "bold", "titleFontSize": 29, "titleColor": "#000000",
            "titleAngle": -90, "titleX": -97, "titleY": 405, "titleBaseline": "middle", "titleAlign": "center"
          }
        }
      }
    },
    {
      "data": {"name": "volume"},
      "mark": {"type": "line", "strokeJoin": "round", "strokeCap": "round"},
      "encoding": {
        "y": {
          "field": "v", "type": "quantitative",
          "scale": {"domain": [0, 90], "nice": false},
          "axis": {
            "orient": "right", "title": "Volume Útil (%)", "format": "d", "values": [0, 10, 20, 30, 40, 50, 60, 70, 80, 90],
            "grid": false, "domainColor": "#A6A6A6", "tickColor": "#A6A6A6", "tickSize": 7,
            "labelFont": "DejaVu Sans", "labelFontWeight": "bold", "labelFontSize": 18, "labelColor": "#000000", "labelPadding": 13,
            "titleFont": "Liberation Sans", "titleFontWeight": "bold", "titleFontSize": 27, "titleColor": "#000000",
            "titleAngle": -90, "titleX": 77, "titleY": 405, "titleBaseline": "middle", "titleAlign": "center"
          }
        }
      }
    }
  ],
  "resolve": {"scale": {"y": "independent"}}
}
